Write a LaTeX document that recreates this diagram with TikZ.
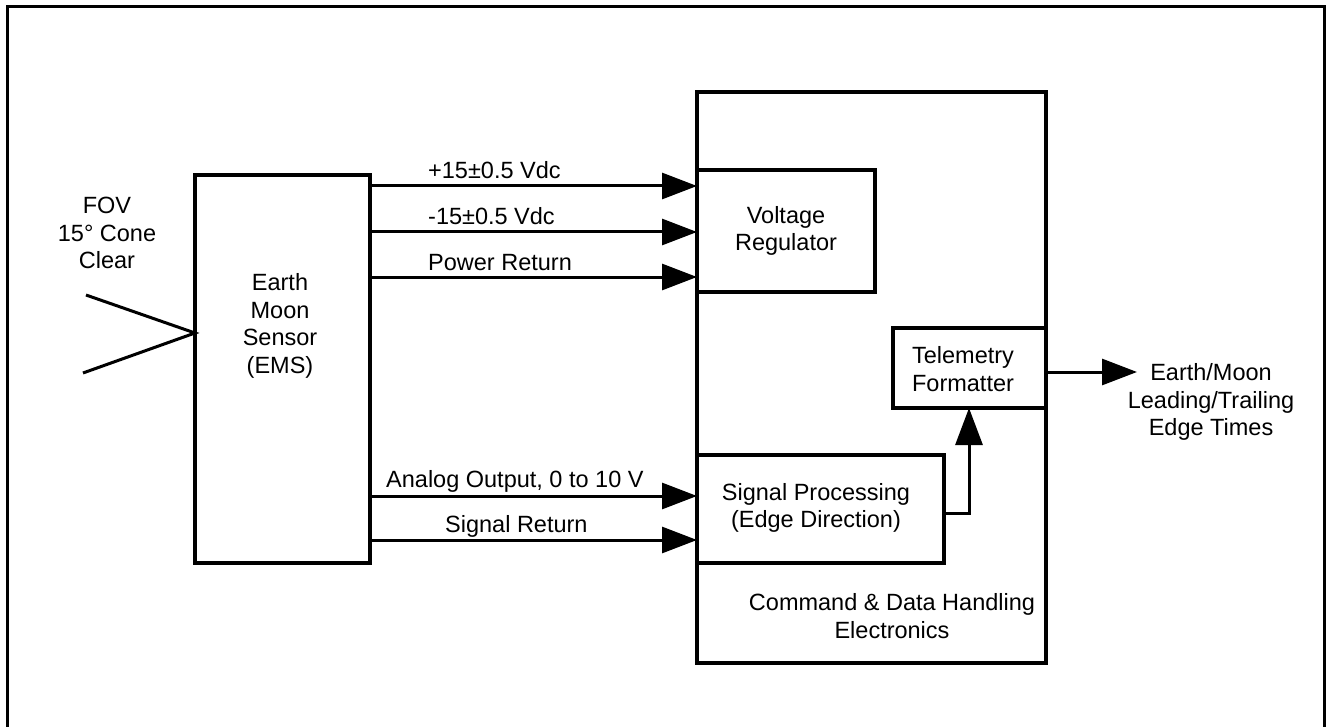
\documentclass[tikz,border=0pt]{standalone}
\usepackage{fontspec}
\setmainfont{Liberation Sans}
\usetikzlibrary{arrows.meta}
\begin{document}
\begin{tikzpicture}[x=1pt,y=-1pt,
  box/.style={draw, line width=4.5pt, rectangle, inner sep=0pt, outer sep=0pt},
  conn/.style={line width=3pt, -{Triangle[length=35pt,width=26pt]}},
  wire/.style={line width=3pt},
  lbl/.style={font=\fontsize{23.5}{27.5}\selectfont, align=center, inner sep=0pt},
  albl/.style={font=\fontsize{23.5}{27.5}\selectfont, inner sep=0pt, anchor=base west},
]
\useasboundingbox (0,0) rectangle (1327,727);
\draw[line width=3pt] (7,7) rectangle (1324,760);

% boxes
\node[box, minimum width=175pt, minimum height=388pt] (ems) at (282.5,369) {};
\node[box, minimum width=349pt, minimum height=571pt] (cdh) at (871.5,377.5) {};
\node[box, minimum width=178pt, minimum height=122pt] (vr) at (786,231) {};
\node[box, minimum width=153pt, minimum height=80pt] (tf) at (969.5,368) {};
\node[box, minimum width=247pt, minimum height=108pt] (sp) at (820.5,509) {};

% texts
\node[lbl] (emstext) at (280,326) {Earth\\Moon\\Sensor\\(EMS)};
\node[lbl] (fovtext) at (107,233) {FOV\\15° Cone\\Clear};
\node[lbl] (vrtext) at (786,231) {Voltage\\Regulator};
\node[lbl] (tftext) at (963,369) {Telemetry\\Formatter};
\node[lbl] (sptext) at (816,508) {Signal Processing\\(Edge Direction)};
\node[lbl] (cdhtext) at (892,616) {Command \& Data Handling\\Electronics};
\node[lbl] (outtext) at (1211,402) {Earth/Moon\\Leading/Trailing\\Edge Times};

% FOV cone
\coordinate (fova) at (86,295);
\coordinate (fovb) at (83,373);
\coordinate (apex) at (ems.west |- 0,333);
\draw[wire] (fova) -- (apex) -- (fovb);

% power lines
\draw[conn] (ems.east |- 0,186) -- (vr.west |- 0,186);
\draw[conn] (ems.east |- 0,232) -- (vr.west |- 0,232);
\draw[conn] (ems.east |- 0,277) -- (vr.west |- 0,277);
\node[albl] (l1) at (428,179) {+15±0.5 Vdc};
\node[albl] (l2) at (428,225) {-15±0.5 Vdc};
\node[albl] (l3) at (428,270) {Power Return};

% signal lines
\draw[conn] (ems.east |- 0,496) -- (sp.west |- 0,496);
\draw[conn] (ems.east |- 0,540) -- (sp.west |- 0,540);
\node[albl] (l4) at (386,487) {Analog Output, 0 to 10 V};
\node[albl] (l5) at (445,532) {Signal Return};

% signal processing to telemetry formatter
\coordinate (bend) at (969,513);
\draw[line width=3pt, -{Triangle[length=37pt,width=27pt]}] (sp.east |- bend) -- (bend) -- (bend |- tf.south);

% output
\coordinate (outend) at (1137,372);
\draw[conn] (tf.east |- outend) -- (outend);
\end{tikzpicture}
\end{document}
